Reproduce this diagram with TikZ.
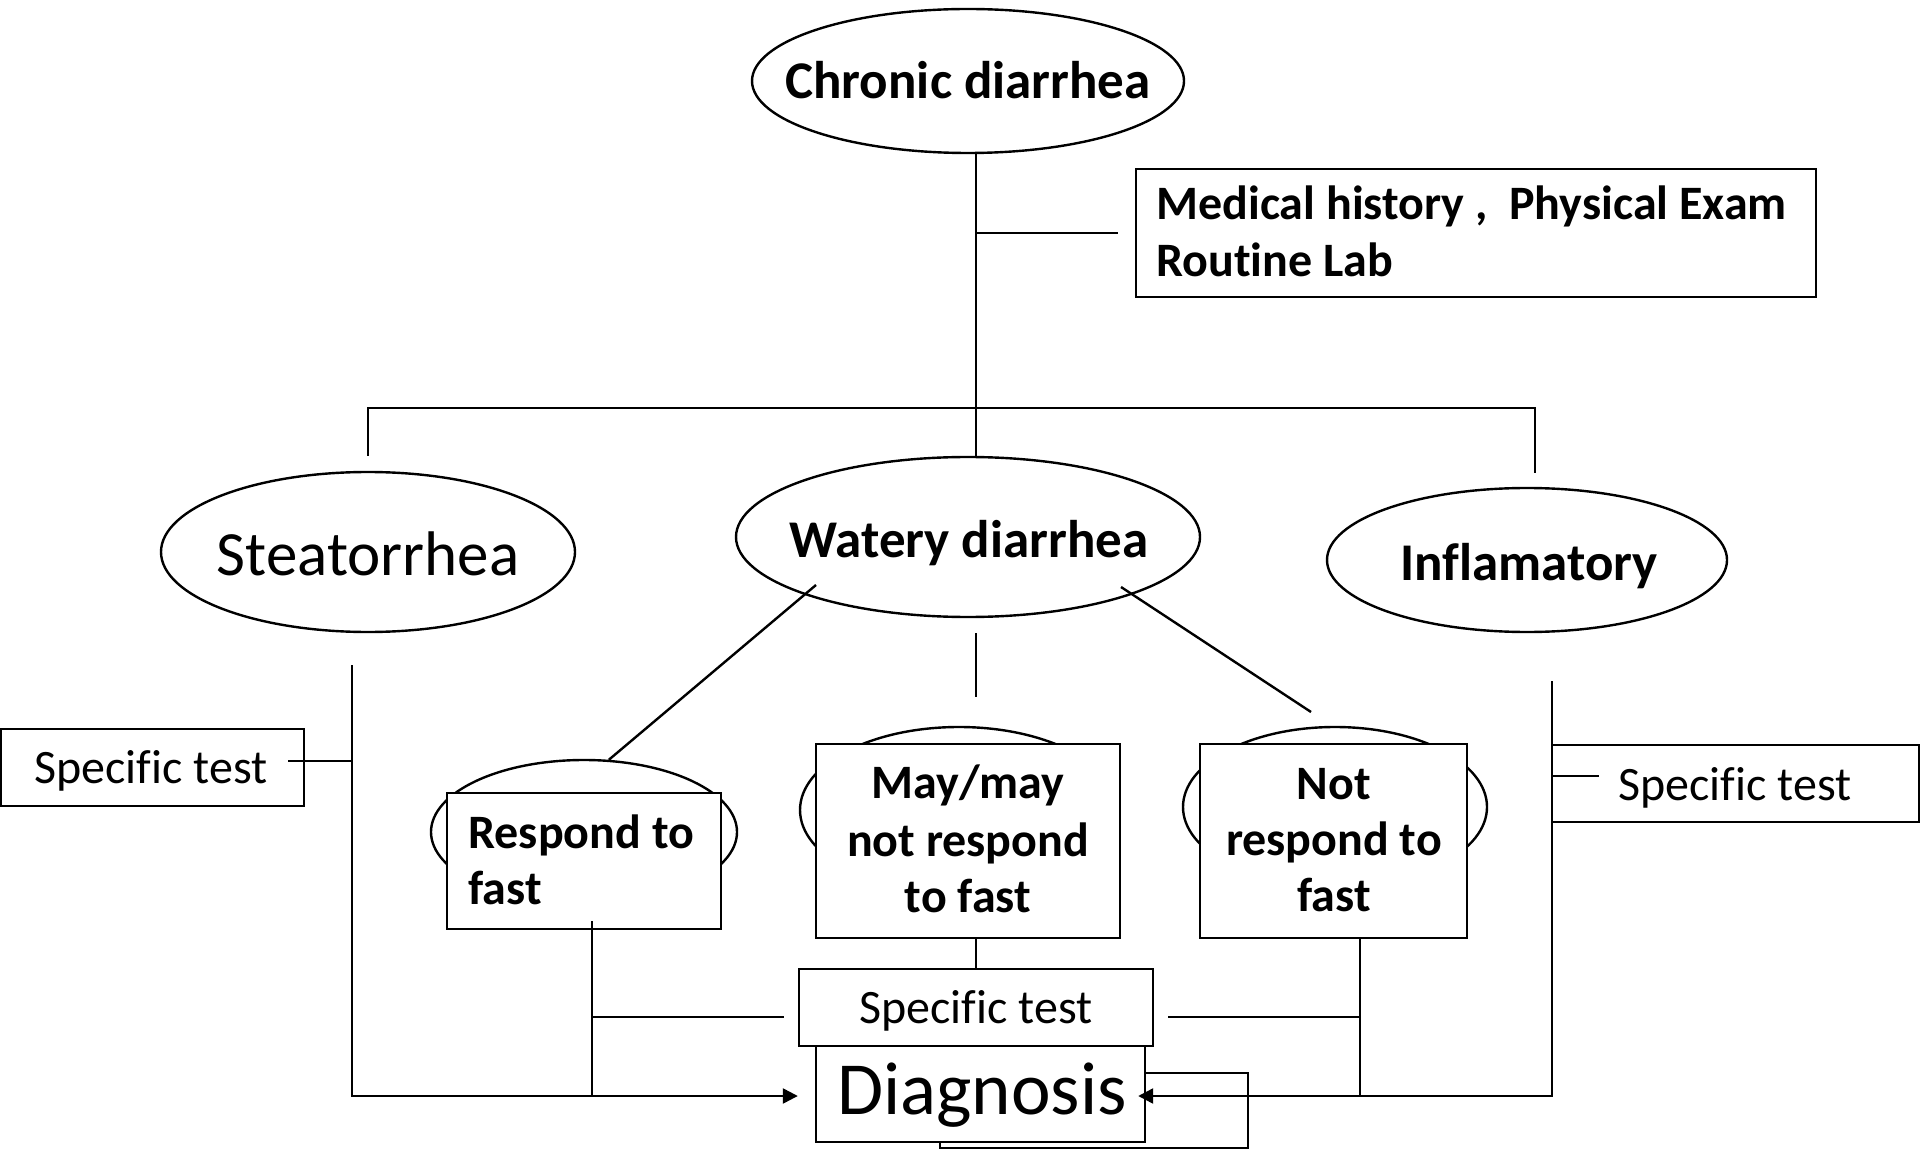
\documentclass[tikz,border=0pt]{standalone}
\usepackage{fontspec}
\setmainfont{Carlito}[Ligatures=NoCommon]
\usetikzlibrary{shapes.geometric,arrows.meta}
\tikzset{
  ln/.style={line width=1.2pt},
  arr/.style={line width=1.2pt, -{Triangle[length=7.5pt,width=7.5pt]}},
  ell/.style={draw, ellipse, line width=1.2pt, inner sep=0pt},
  box/.style={draw, rectangle, line width=1.2pt, inner sep=0pt, fill=white},
  tb/.style={inner sep=0pt, font=\fontsize{24}{28}\selectfont\bfseries},
  tbig/.style={inner sep=0pt, font=\fontsize{26.5}{30}\selectfont\bfseries},
  treg/.style={inner sep=0pt, font=\fontsize{24}{28}\selectfont},
  tste/.style={inner sep=0pt, font=\fontsize{31.5}{36}\selectfont},
  tdia/.style={inner sep=0pt, font=\fontsize{37.5}{42}\selectfont},
}
\begin{document}
\begin{tikzpicture}[x=0.5pt,y=-0.5pt]
\useasboundingbox (0,0) rectangle (1920,1149);
\fill[white] (0,0) rectangle (1920,1149);

% ellipses
\node[ell, minimum width=216pt, minimum height=72pt] (chronic) at (968,81) {};
\node[ell, minimum width=207pt, minimum height=80pt] (steat) at (368,552) {};
\node[ell, minimum width=232pt, minimum height=80pt] (watery) at (968,537) {};
\node[ell, minimum width=200pt, minimum height=72pt] (infl) at (1527,560) {};
\node[ell, minimum width=153pt, minimum height=72pt] (eresp) at (584,832) {};
\node[ell, minimum width=159pt, minimum height=83pt] (emay) at (959,810) {};
\node[ell, minimum width=152pt, minimum height=80pt] (enot) at (1335,807) {};

% boxes
\node[box, minimum width=340pt, minimum height=64pt] (med) at (1476,233) {};
\node[box, minimum width=137pt, minimum height=68pt] (resp) at (584,861) {};
\node[box, minimum width=152pt, minimum height=97pt] (may) at (968,841) {};
\node[box, minimum width=133.5pt, minimum height=97pt] (notb) at (1333.5,841) {};
\node[box, minimum width=151.5pt, minimum height=38.5pt] (stl) at (152.5,767.5) {};
\node[box, minimum width=183.5pt, minimum height=38.5pt] (str) at (1735.5,783.5) {};
\node[box, minimum width=177pt, minimum height=38.5pt] (stm) at (976,1007.5) {};
\node[box, minimum width=164.5pt, minimum height=48pt] (diag) at (980.5,1094) {};

% texts
\node[tbig, anchor=base] (tchronic) at (968,99) {Chronic diarrhea};
\node[tste, anchor=base] (tsteat) at (368,575) {Steatorrhea};
\node[tbig, anchor=base] (twatery) at (969,557) {Watery diarrhea};
\node[tbig, anchor=base] (tinfl) at (1529,580) {Inflamatory};
\node[tb, anchor=base west] (tmed1) at (1156,220) {Medical history ,\ \ Physical Exam};
\node[tb, anchor=base west] (tmed2) at (1156,277) {Routine Lab};
\node[tb, anchor=base west] (tresp1) at (468,848) {Respond to};
\node[tb, anchor=base west] (tresp2) at (468,904) {fast};
\node[tb, anchor=base] (tmay1) at (968,798) {May/may};
\node[tb, anchor=base] (tmay2) at (968,856) {not respond};
\node[tb, anchor=base] (tmay3) at (968,912) {to fast};
\node[tb, anchor=base] (tnot1) at (1334,799) {Not};
\node[tb, anchor=base] (tnot2) at (1334,855) {respond to};
\node[tb, anchor=base] (tnot3) at (1334,911) {fast};
\node[treg, anchor=base] (tstl) at (151,783) {Specific test};
\node[treg, anchor=base] (tstr) at (1735,800) {Specific test};
\node[treg, anchor=base] (tstm) at (976,1023) {Specific test};
\node[tdia, anchor=base] (tdiag) at (982,1114) {Diagnosis};

% coordinates
\coordinate (bar) at (976,408);
\coordinate (rdrop) at (1535,408);
\coordinate (wl) at (816,585);
\coordinate (wr1) at (1121,587);
\coordinate (wr2) at (1311,712);
\coordinate (wm1) at (976,633);
\coordinate (wm2) at (976,697);
\coordinate (ay) at (0,1096);
\coordinate (sv) at (352,665);
\coordinate (stlb) at (288,761);
\coordinate (rvt) at (592,921);
\coordinate (rb) at (592,1017);
\coordinate (rbe) at (784,1017);
\coordinate (nv) at (1360,1017);
\coordinate (nbe) at (1168,1017);
\coordinate (iv) at (1552,681);
\coordinate (srb) at (1599,776);
\coordinate (lpr) at (1248,1148);
\coordinate (lp) at (940,1148);

% connectors
\draw[ln] (chronic.south -| bar) -- (watery.north -| bar);
\draw[ln] (bar |- med.west) -- ([xshift=-8.5pt]med.west);
\draw[ln] ([yshift=7.5pt]steat.north) |- (rdrop) -- ++(0,65);
\draw[ln] (wl) -- (eresp.71);
\draw[ln] (wr1) -- (wr2);
\draw[ln] (wm1) -- (wm2);

\draw[arr] (sv) |- ([xshift=-8.5pt,yshift=-1pt]diag.west);
\draw[ln] (stlb) -- (stlb -| sv);
\draw[ln] (rvt) -- (rvt |- ay);
\draw[ln] (rb) -- (rbe);
\draw[ln] (notb.south -| nv) -- (nv |- ay);
\draw[ln] (nbe) -- (nv);
\draw[arr] (iv) |- ([xshift=-4pt,yshift=-1pt]diag.east);
\draw[ln] (srb -| iv) -- (srb);
\draw[ln] (may.south -| stm.north) -- (stm.north);
\draw[ln] ([yshift=10.5pt]diag.east) -| (lpr) -| (diag.south -| lp);
\end{tikzpicture}
\end{document}
